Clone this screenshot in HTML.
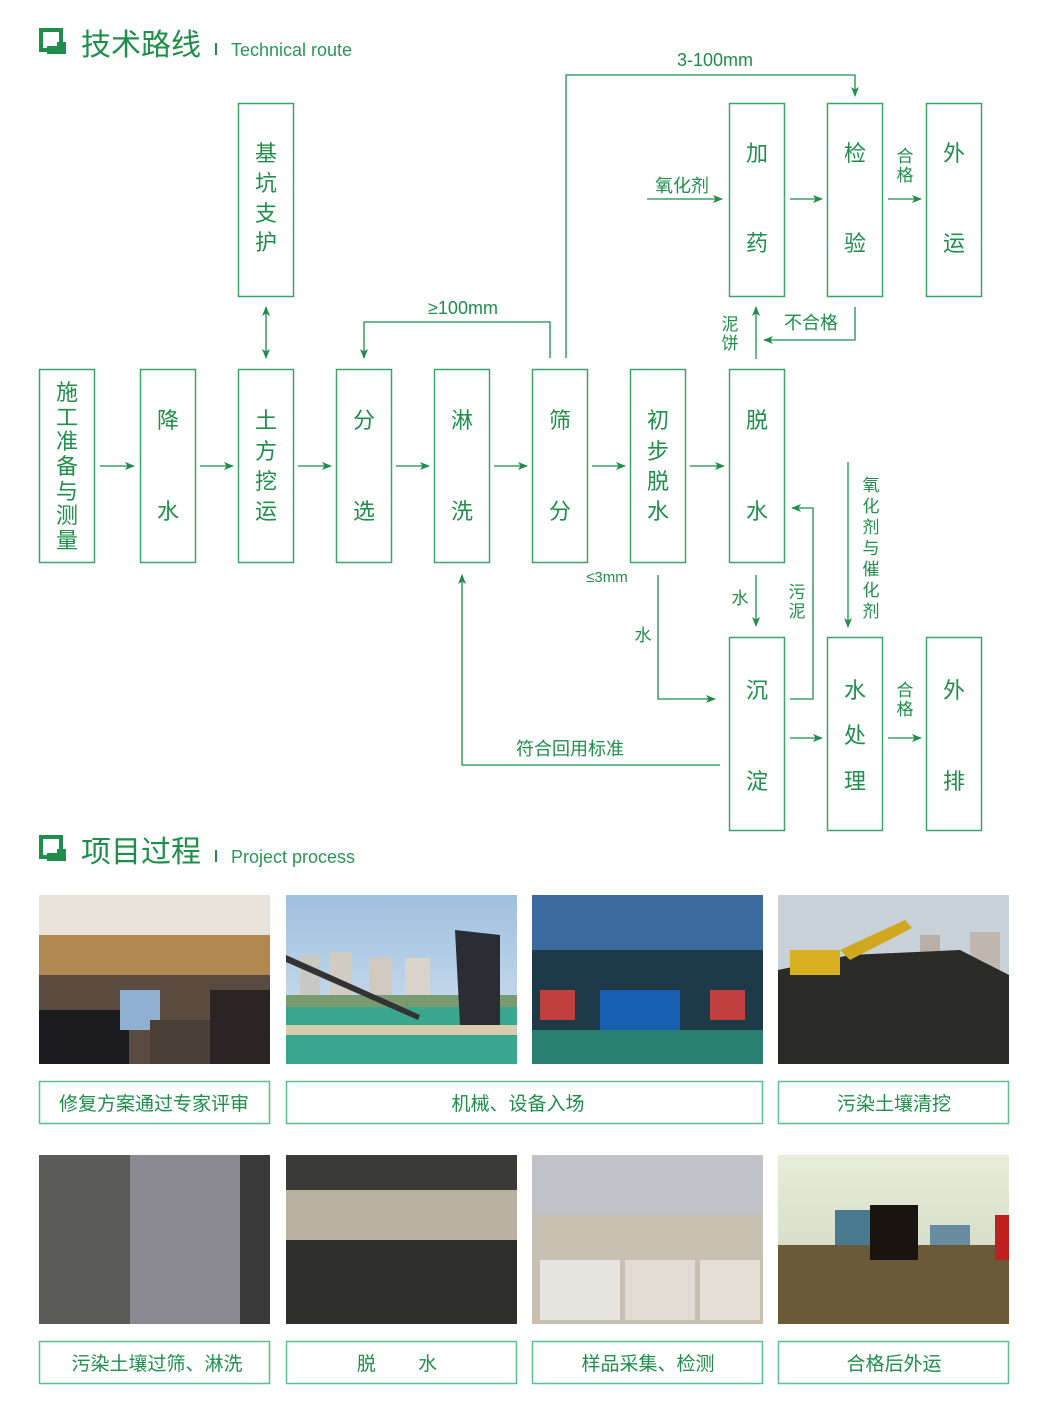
<!DOCTYPE html>
<html><head><meta charset="utf-8"><style>
html,body{margin:0;padding:0;background:#fff}
svg{display:block}
text{font-family:"Liberation Sans","Noto Sans CJK SC",sans-serif}
</style></head><body>
<svg width="1055" height="1426" viewBox="0 0 1055 1426" xmlns="http://www.w3.org/2000/svg">
<defs>
<marker id="a" markerWidth="10" markerHeight="10" refX="9" refY="5" orient="auto" markerUnits="userSpaceOnUse"><path d="M0,1 L10,5 L0,9 L2.5,5 Z" fill="#1e8e4a"/></marker>
<marker id="s" markerWidth="10" markerHeight="10" refX="1" refY="5" orient="auto" markerUnits="userSpaceOnUse"><path d="M10,1 L0,5 L10,9 L7.5,5 Z" fill="#1e8e4a"/></marker>
<linearGradient id="sky" x1="0" y1="0" x2="0" y2="1"><stop offset="0" stop-color="#9fc0e0"/><stop offset="1" stop-color="#d6e4ee"/></linearGradient>
<linearGradient id="haze" x1="0" y1="0" x2="0" y2="1"><stop offset="0" stop-color="#e8ecd8"/><stop offset="1" stop-color="#c8d4c0"/></linearGradient>
</defs>

<g>
<rect x="41" y="30" width="20" height="20" fill="none" stroke="#1e8e4a" stroke-width="4"/>
<rect x="47" y="42" width="19" height="12" fill="#1e8e4a"/>
<rect x="45" y="34" width="12" height="12" fill="#fff"/>
<text x="81" y="55" font-size="30" fill="#1e8e4a">技术路线</text>
<rect x="215" y="43" width="2" height="12" fill="#1e8e4a"/>
<text x="231" y="56" font-size="18" fill="#2a9655">Technical route</text>
</g>
<g>
<rect x="41" y="837" width="20" height="20" fill="none" stroke="#1e8e4a" stroke-width="4"/>
<rect x="47" y="849" width="19" height="12" fill="#1e8e4a"/>
<rect x="45" y="841" width="12" height="12" fill="#fff"/>
<text x="81" y="862" font-size="30" fill="#1e8e4a">项目过程</text>
<rect x="215" y="850" width="2" height="12" fill="#1e8e4a"/>
<text x="231" y="863" font-size="18" fill="#2a9655">Project process</text>
</g>

<g fill="none" stroke="#3da56a" stroke-width="1.5">
<rect x="39.5" y="369.5" width="55" height="193"/>
<rect x="140.5" y="369.5" width="55" height="193"/>
<rect x="238.5" y="369.5" width="55" height="193"/>
<rect x="336.5" y="369.5" width="55" height="193"/>
<rect x="434.5" y="369.5" width="55" height="193"/>
<rect x="532.5" y="369.5" width="55" height="193"/>
<rect x="630.5" y="369.5" width="55" height="193"/>
<rect x="729.5" y="369.5" width="55" height="193"/>
<rect x="238.5" y="103.5" width="55" height="193"/>
<rect x="729.5" y="103.5" width="55" height="193"/>
<rect x="827.5" y="103.5" width="55" height="193"/>
<rect x="926.5" y="103.5" width="55" height="193"/>
<rect x="729.5" y="637.5" width="55" height="193"/>
<rect x="827.5" y="637.5" width="55" height="193"/>
<rect x="926.5" y="637.5" width="55" height="193"/>
</g>

<g font-size="22" fill="#1e8e4a" text-anchor="middle">
<text x="67" y="400">施</text><text x="67" y="425">工</text><text x="67" y="449">准</text><text x="67" y="474">备</text><text x="67" y="499">与</text><text x="67" y="523">测</text><text x="67" y="548">量</text>
<text x="168" y="428">降</text><text x="168" y="519">水</text>
<text x="266" y="428">土</text><text x="266" y="459">方</text><text x="266" y="489">挖</text><text x="266" y="519">运</text>
<text x="364" y="428">分</text><text x="364" y="519">选</text>
<text x="462" y="428">淋</text><text x="462" y="519">洗</text>
<text x="560" y="428">筛</text><text x="560" y="519">分</text>
<text x="658" y="428">初</text><text x="658" y="459">步</text><text x="658" y="489">脱</text><text x="658" y="519">水</text>
<text x="757" y="428">脱</text><text x="757" y="519">水</text>
<text x="266" y="161">基</text><text x="266" y="191">坑</text><text x="266" y="221">支</text><text x="266" y="250">护</text>
<text x="757" y="161">加</text><text x="757" y="251">药</text>
<text x="855" y="161">检</text><text x="855" y="251">验</text>
<text x="954" y="161">外</text><text x="954" y="251">运</text>
<text x="757" y="698">沉</text><text x="757" y="789">淀</text>
<text x="855" y="698">水</text><text x="855" y="743">处</text><text x="855" y="789">理</text>
<text x="954" y="698">外</text><text x="954" y="789">排</text>
</g>

<g fill="none" stroke="#1e8e4a" stroke-width="1.3">
<line x1="100" y1="466" x2="134" y2="466" marker-end="url(#a)"/>
<line x1="200" y1="466" x2="233" y2="466" marker-end="url(#a)"/>
<line x1="298" y1="466" x2="331" y2="466" marker-end="url(#a)"/>
<line x1="396" y1="466" x2="429" y2="466" marker-end="url(#a)"/>
<line x1="494" y1="466" x2="527" y2="466" marker-end="url(#a)"/>
<line x1="592" y1="466" x2="625" y2="466" marker-end="url(#a)"/>
<line x1="690" y1="466" x2="724" y2="466" marker-end="url(#a)"/>
<line x1="266" y1="307" x2="266" y2="358" marker-start="url(#s)" marker-end="url(#a)"/>
<polyline points="550,358 550,322 364,322 364,358" marker-end="url(#a)"/>
<polyline points="566,358 566,75 855,75 855,96" marker-end="url(#a)"/>
<line x1="647" y1="199" x2="722" y2="199" marker-end="url(#a)"/>
<line x1="790" y1="199" x2="822" y2="199" marker-end="url(#a)"/>
<line x1="888" y1="199" x2="921" y2="199" marker-end="url(#a)"/>
<polyline points="855,307 855,340 764,340" marker-end="url(#a)"/>
<line x1="756" y1="359" x2="756" y2="307" marker-end="url(#a)"/>
<line x1="756" y1="575" x2="756" y2="626" marker-end="url(#a)"/>
<polyline points="790,699 813,699 813,508 792,508" marker-end="url(#a)"/>
<line x1="848" y1="462" x2="848" y2="627" marker-end="url(#a)"/>
<polyline points="658,575 658,699 715,699" marker-end="url(#a)"/>
<line x1="790" y1="738" x2="822" y2="738" marker-end="url(#a)"/>
<line x1="888" y1="738" x2="921" y2="738" marker-end="url(#a)"/>
<polyline points="720,765 462,765 462,575" marker-end="url(#a)"/>
</g>

<g font-size="18" fill="#1e8e4a" text-anchor="middle">
<text x="715" y="66">3-100mm</text>
<text x="463" y="314">≥100mm</text>
<text x="682" y="192">氧化剂</text>
<text x="811" y="329">不合格</text>
<text x="570" y="755">符合回用标准</text>
<text x="607" y="582" font-size="15">≤3mm</text>
<text x="740" y="604" font-size="17">水</text>
<text x="643" y="641" font-size="17">水</text>
</g>
<g font-size="17" fill="#1e8e4a" text-anchor="middle">
<text x="905" y="162">合</text><text x="905" y="181">格</text>
<text x="905" y="696">合</text><text x="905" y="715">格</text>
<text x="730" y="330">泥</text><text x="730" y="349">饼</text>
<text x="797" y="598">污</text><text x="797" y="617">泥</text>
<text x="871" y="491">氧</text><text x="871" y="512">化</text><text x="871" y="533">剂</text><text x="871" y="554">与</text><text x="871" y="575">催</text><text x="871" y="596">化</text><text x="871" y="617">剂</text>
</g>

<g>
<rect x="39" y="895" width="231" height="169" fill="#8a6a4a"/>
<rect x="39" y="895" width="231" height="40" fill="#e8e4dc"/>
<rect x="39" y="935" width="231" height="40" fill="#b08850"/>
<rect x="39" y="975" width="231" height="89" fill="#5a4a40"/>
<rect x="39" y="1010" width="90" height="54" fill="#1c1c1e"/>
<rect x="120" y="990" width="40" height="40" fill="#8fb0d0"/>
<rect x="150" y="1020" width="70" height="44" fill="#4a4038"/>
<rect x="210" y="990" width="60" height="74" fill="#2a2424"/>
</g>
<g>
<rect x="286" y="895" width="231" height="169" fill="url(#sky)"/>
<rect x="300" y="955" width="20" height="40" fill="#c8c8c4"/><rect x="330" y="952" width="22" height="45" fill="#d0ccc4"/>
<rect x="370" y="958" width="22" height="40" fill="#cfc9c0"/><rect x="405" y="958" width="25" height="40" fill="#d8d4cc"/>
<rect x="286" y="995" width="231" height="12" fill="#7a9a70"/>
<rect x="286" y="1007" width="231" height="57" fill="#3aa890"/>
<rect x="286" y="1025" width="231" height="10" fill="#d8ccb0"/>
<polygon points="286,955 420,1015 418,1020 286,962" fill="#333"/>
<polygon points="455,930 500,935 500,1025 460,1025" fill="#2a2d33"/>
</g>
<g>
<rect x="532" y="895" width="231" height="169" fill="#2a4a6a"/>
<rect x="532" y="895" width="231" height="55" fill="#3a6aa0"/>
<rect x="532" y="950" width="231" height="114" fill="#1e3a48"/>
<rect x="600" y="990" width="80" height="40" fill="#1a60b0"/>
<rect x="540" y="990" width="35" height="30" fill="#c04040"/>
<rect x="710" y="990" width="35" height="30" fill="#c04040"/>
<rect x="532" y="1030" width="231" height="34" fill="#2a8070"/>
</g>
<g>
<rect x="778" y="895" width="231" height="169" fill="#c8d0d8"/>
<rect x="920" y="935" width="20" height="40" fill="#b8b0a8"/><rect x="970" y="932" width="30" height="45" fill="#c0b8b0"/>
<polygon points="778,1064 778,970 850,955 960,950 1009,975 1009,1064" fill="#2a2a28"/>
<rect x="790" y="950" width="50" height="25" fill="#d8b020"/>
<polygon points="840,950 905,920 912,928 850,960" fill="#d0a820"/>
</g>
<g>
<rect x="39" y="1155" width="231" height="169" fill="#5a5a58"/>
<rect x="130" y="1155" width="110" height="169" fill="#8a8a90"/>
<rect x="240" y="1155" width="30" height="169" fill="#3a3a3a"/>
</g>
<g>
<rect x="286" y="1155" width="231" height="169" fill="#3a3a38"/>
<rect x="286" y="1190" width="231" height="50" fill="#b8b0a0"/>
<rect x="286" y="1240" width="231" height="84" fill="#2e2e2c"/>
</g>
<g>
<rect x="532" y="1155" width="231" height="169" fill="#909090"/>
<rect x="532" y="1155" width="231" height="60" fill="#c0c4c8"/>
<rect x="532" y="1215" width="231" height="109" fill="#c8c0b0"/>
<rect x="540" y="1260" width="80" height="60" fill="#e8e4e0"/>
<rect x="625" y="1260" width="70" height="60" fill="#e0dcd4"/>
<rect x="700" y="1260" width="60" height="60" fill="#e4e0d8"/>
</g>
<g>
<rect x="778" y="1155" width="231" height="169" fill="url(#haze)"/>
<rect x="835" y="1210" width="40" height="40" fill="#4a7a90"/>
<rect x="930" y="1225" width="40" height="25" fill="#6a8ca0"/>
<rect x="778" y="1245" width="231" height="79" fill="#6a5a38"/>
<rect x="870" y="1205" width="48" height="55" fill="#1a1410"/>
<rect x="995" y="1215" width="14" height="45" fill="#c02020"/>
</g>

<g fill="none" stroke="#5cbf90" stroke-width="1.5">
<rect x="39.5" y="1081.5" width="230" height="42"/>
<rect x="286.5" y="1081.5" width="476" height="42"/>
<rect x="778.5" y="1081.5" width="230" height="42"/>
<rect x="39.5" y="1341.5" width="230" height="42"/>
<rect x="286.5" y="1341.5" width="230" height="42"/>
<rect x="532.5" y="1341.5" width="230" height="42"/>
<rect x="778.5" y="1341.5" width="230" height="42"/>
</g>
<g font-size="19" fill="#1e8e4a" text-anchor="middle">
<text x="154" y="1110">修复方案通过专家评审</text>
<text x="518" y="1110">机械、设备入场</text>
<text x="894" y="1110">污染土壤清挖</text>
<text x="157" y="1370">污染土壤过筛、淋洗</text>
<text x="397" y="1370" xml:space="preserve">脱        水</text>
<text x="648" y="1370">样品采集、检测</text>
<text x="894" y="1370">合格后外运</text>
</g>
</svg>
</body></html>
